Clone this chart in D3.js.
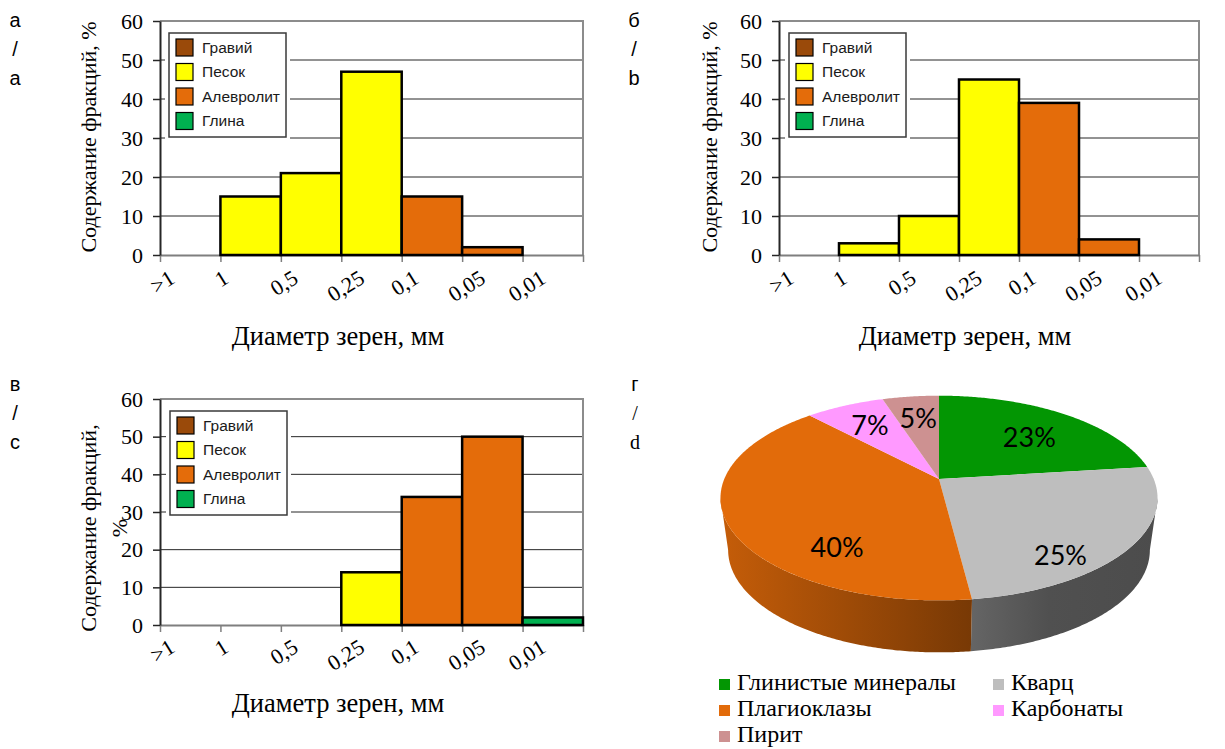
<!DOCTYPE html>
<html>
<head>
<meta charset="utf-8">
<script src="https://cdn.jsdelivr.net/npm/d3@7"></script>
<style>
  html, body { margin: 0; padding: 0; background: #fff; }
  svg { display: block; }
</style>
</head>
<body>
<svg id="chart" width="1225" height="749"></svg>
<script>
// Grain-size classes: bins lie between consecutive tick labels
const sizeTicks = [">1", "1", "0,5", "0,25", "0,1", "0,05", "0,01"];
const binClass = ["Гравий", "Песок", "Песок", "Песок", "Алевролит", "Алевролит", "Глина"];
const fractionNames = ["Гравий", "Песок", "Алевролит", "Глина"];
const fractionColors = ["#9a4a0a", "#ffff00", "#e46c0a", "#00b050"];
const yTicks = [0, 10, 20, 30, 40, 50, 60];

// Fraction content, % (one value per bin)
const valuesA = [0, 15, 21, 47, 15, 2, 0];
const valuesB = [0, 3, 10, 45, 39, 4, 0];
const valuesC = [0, 0, 0, 14, 34, 50, 2];

// Mineral composition
const mineralNames = ["Глинистые минералы", "Кварц", "Плагиоклазы", "Карбонаты", "Пирит"];
const mineralShares = [23, 25, 40, 7, 5];
const mineralColors = ["#039603", "#bebebe", "#e26b0a", "#ff99ff", "#cd9191"];

const SERIF = "'Liberation Serif', 'Times New Roman', serif";
const SANS = "'Liberation Sans', Arial, sans-serif";
const svg = d3.select("#chart");
const fractionColor = d3.scaleOrdinal().domain(fractionNames).range(fractionColors);

function drawHistogram(values, b) {
  const g = svg.append("g");
  const x = d3.scaleLinear().domain([0, sizeTicks.length]).range([b.left, b.right]);
  const y = d3.scaleLinear().domain([0, 60]).range([b.bottom, b.top]);

  // horizontal gridlines
  g.append("g").selectAll("line").data(yTicks.slice(1, -1)).join("line")
    .attr("x1", b.left).attr("x2", b.right)
    .attr("y1", d => y(d)).attr("y2", d => y(d))
    .attr("stroke", "#262626").attr("stroke-width", 1);

  // plot frame (top and right)
  g.append("path")
    .attr("d", `M${b.left},${y(60)}H${b.right}V${y(0)}`)
    .attr("fill", "none").attr("stroke", "#8c8c8c").attr("stroke-width", 2);

  // x axis with slanted size labels
  const xa = g.append("g").attr("transform", `translate(0,${y(0)})`)
    .call(d3.axisBottom(x)
      .tickValues(d3.range(sizeTicks.length + 1))
      .tickSize(7).tickSizeOuter(0)
      .tickFormat(i => sizeTicks[i] ?? ""));
  xa.select(".domain").attr("stroke", "#7f7f7f").attr("stroke-width", 2);
  xa.selectAll(".tick line").attr("stroke", "#7f7f7f").attr("stroke-width", 1.5);
  xa.selectAll(".tick text")
    .attr("font-family", SERIF).attr("font-size", 22).attr("fill", "#000")
    .attr("text-anchor", "end").attr("y", 0).attr("dy", 0)
    .each(function () {
      const w = this.getComputedTextLength();
      d3.select(this).attr("transform", `translate(${3 + 0.55 * w},${b.labelDrop}) rotate(-32)`);
    });

  // y axis
  const ya = g.append("g").attr("transform", `translate(${b.left},0)`)
    .call(d3.axisLeft(y).tickValues(yTicks).tickSize(7).tickSizeOuter(0).tickPadding(10));
  ya.select(".domain").attr("stroke", "#262626").attr("stroke-width", 2);
  ya.selectAll(".tick line").attr("stroke", "#262626").attr("stroke-width", 1.5);
  ya.selectAll(".tick text").attr("font-family", SERIF).attr("font-size", 22).attr("fill", "#000");

  // bars
  g.append("g").selectAll("rect")
    .data(values.map((v, i) => ({ v, i })).filter(d => d.v > 0))
    .join("rect")
    .attr("x", d => x(d.i)).attr("width", d => x(d.i + 1) - x(d.i))
    .attr("y", d => y(d.v)).attr("height", d => y(0) - y(d.v))
    .attr("fill", d => fractionColor(binClass[d.i]))
    .attr("stroke", "#000").attr("stroke-width", 2.5);

  // legend
  const lg = g.append("g").attr("transform", `translate(${b.left + b.legendDx},${b.top + 12})`);
  lg.append("rect").attr("x", -4).attr("y", -4).attr("width", 125).attr("height", 112).attr("fill", "#fff");
  lg.append("rect").attr("width", 117).attr("height", 104)
    .attr("fill", "#fff").attr("stroke", "#3a3a3a").attr("stroke-width", 1.5);
  const item = lg.selectAll(".item").data(fractionNames).join("g")
    .attr("transform", (d, i) => `translate(7,${6 + i * 24.5})`);
  item.append("rect").attr("width", 17).attr("height", 17)
    .attr("fill", d => fractionColor(d)).attr("stroke", "#000").attr("stroke-width", 1.2);
  item.append("text").attr("x", 26).attr("y", 8.5).attr("dy", "0.35em")
    .attr("font-family", SANS).attr("font-size", 15.5).attr("fill", "#1a1a1a")
    .text(d => d);

  // axis titles
  const yt = g.append("text")
    .attr("transform", `translate(${b.yTitleX},${b.yTitleY}) rotate(-90)`)
    .attr("text-anchor", "middle").attr("font-family", SERIF).attr("font-size", 22).attr("fill", "#000");
  b.yTitle.forEach((line, i) => {
    yt.append("tspan").attr("x", 0).attr("dy", i === 0 ? 0 : 31).text(line);
  });
  g.append("text")
    .attr("x", b.xTitleX).attr("y", b.xTitleY)
    .attr("text-anchor", "middle").attr("font-family", SERIF).attr("font-size", 26.5).attr("fill", "#000")
    .text("Диаметр зерен, мм");
}

drawHistogram(valuesA, {
  left: 160, right: 583, top: 21, bottom: 255, labelDrop: 27, legendDx: 9,
  yTitle: ["Содержание фракций, %"], yTitleX: 96, yTitleY: 137,
  xTitleX: 338, xTitleY: 345
});
drawHistogram(valuesB, {
  left: 779, right: 1199, top: 21, bottom: 255, labelDrop: 27, legendDx: 10,
  yTitle: ["Содержание фракций, %"], yTitleX: 717, yTitleY: 137,
  xTitleX: 965, xTitleY: 345
});
drawHistogram(valuesC, {
  left: 160, right: 583, top: 399, bottom: 625, labelDrop: 26, legendDx: 10,
  yTitle: ["Содержание фракций,", "%"], yTitleX: 96, yTitleY: 528,
  xTitleX: 338, xTitleY: 712
});

// ---- 3-D pie of mineral composition ----
const P = { cx: 939, cy: 479, rx: 214.7, ry: 98.8, k: 0.186, depth: 52, base: 0.965 };
// perspective projection of a rim point (phi measured clockwise from 3 o'clock)
function rim(phi, bottom) {
  const u = Math.cos(phi), v = Math.sin(phi);
  const w = 1 - P.k * v;
  const rx = bottom ? P.rx * P.base : P.rx;
  return [P.cx + rx * u / w, P.cy + P.ry * v / w + (bottom ? P.depth : 0)];
}
function arcPts(p0, p1, bottom) {
  const n = Math.max(2, Math.ceil(Math.abs(p1 - p0) / 0.01));
  return d3.range(n + 1).map(i => rim(p0 + (p1 - p0) * i / n, bottom));
}
const toPhi = a => a - Math.PI / 2;
const arcs = d3.pie().sort(null).value(d => d)(mineralShares);
const phiL = Math.asin(P.k), phiR = Math.PI - phiL;
const pieG = svg.append("g");
const defs = svg.append("defs");
const xMin = P.cx - P.rx * 1.018, xMax = P.cx + P.rx * 1.018;
const shade = [[0, 0.87], [0.574, 0.53], [0.75, 0.42], [1, 0.40]];
const apex = [P.cx, P.cy];

// geometry of each slice: top face polygon and (if visible) front wall polygon
const slices = arcs.map((a, i) => {
  const top = [apex].concat(arcPts(toPhi(a.startAngle), toPhi(a.endAngle), false));
  const p0 = Math.max(toPhi(a.startAngle), phiL);
  const p1 = Math.min(toPhi(a.endAngle), phiR);
  const wall = p0 < p1 ? arcPts(p0, p1, false).concat(arcPts(p1, p0, true)) : null;
  return { a, i, top, wall };
});

// side walls
slices.filter(s => s.wall).forEach(s => {
  const base = d3.rgb(mineralColors[s.i]);
  const grad = defs.append("linearGradient").attr("id", `wall${s.i}`)
    .attr("gradientUnits", "userSpaceOnUse")
    .attr("x1", xMin).attr("x2", xMax).attr("y1", 0).attr("y2", 0);
  shade.forEach(([o, f]) => {
    grad.append("stop").attr("offset", o)
      .attr("stop-color", d3.rgb(base.r * f, base.g * f, base.b * f).formatHex());
  });
  pieG.append("path").attr("d", "M" + s.wall.join("L") + "Z").attr("fill", `url(#wall${s.i})`);
});

// top faces
slices.forEach(s => {
  pieG.append("path").attr("d", "M" + s.top.join("L") + "Z").attr("fill", mineralColors[s.i]);
});

// value labels at the area-weighted centre of each visible slice, pushed outward a little
slices.forEach(s => {
  const parts = [s.top].concat(s.wall ? [s.wall] : []);
  let A = 0, cx = 0, cy = 0;
  parts.forEach(p => {
    const ar = Math.abs(d3.polygonArea(p)), c = d3.polygonCentroid(p);
    A += ar; cx += ar * c[0]; cy += ar * c[1];
  });
  cx /= A; cy /= A;
  const lx = apex[0] + 1.1 * (cx - apex[0]);
  const ly = apex[1] + 1.1 * (cy - apex[1]);
  pieG.append("text").attr("x", lx).attr("y", ly).attr("dy", "0.36em")
    .attr("text-anchor", "middle").attr("font-family", "Lato, 'Open Sans', sans-serif")
    .attr("font-size", 27).attr("fill", "#000")
    .text(`${s.a.data}%`);
});

// pie legend (two columns)
const pl = svg.append("g");
const plItem = pl.selectAll("g").data(mineralNames).join("g")
  .attr("transform", (d, i) => `translate(${i % 2 === 0 ? 719 : 993},${690 + Math.floor(i / 2) * 26})`);
plItem.append("rect").attr("x", 0).attr("y", -11).attr("width", 11).attr("height", 11)
  .attr("fill", (d, i) => mineralColors[i]);
plItem.append("text").attr("x", 18).attr("y", 0)
  .attr("font-family", SERIF).attr("font-size", 24).attr("fill", "#000")
  .text(d => d);

// panel letters
const letters = [
  { x: 15, y: 27, lines: ["а", "/", "a"], fonts: [SANS, SANS, SANS] },
  { x: 634, y: 27, lines: ["б", "/", "b"], fonts: [SANS, SANS, SANS] },
  { x: 15, y: 391, lines: ["в", "/", "c"], fonts: [SANS, SANS, SANS] },
  { x: 635, y: 391, lines: ["г", "/", "d"], fonts: [SANS, SERIF, SERIF] }
];
letters.forEach(L => {
  L.lines.forEach((t, i) => {
    svg.append("text").attr("x", L.x).attr("y", L.y + i * 29)
      .attr("text-anchor", "middle").attr("font-family", L.fonts[i])
      .attr("font-size", 20).attr("fill", "#000").text(t);
  });
});
</script>
</body>
</html>
